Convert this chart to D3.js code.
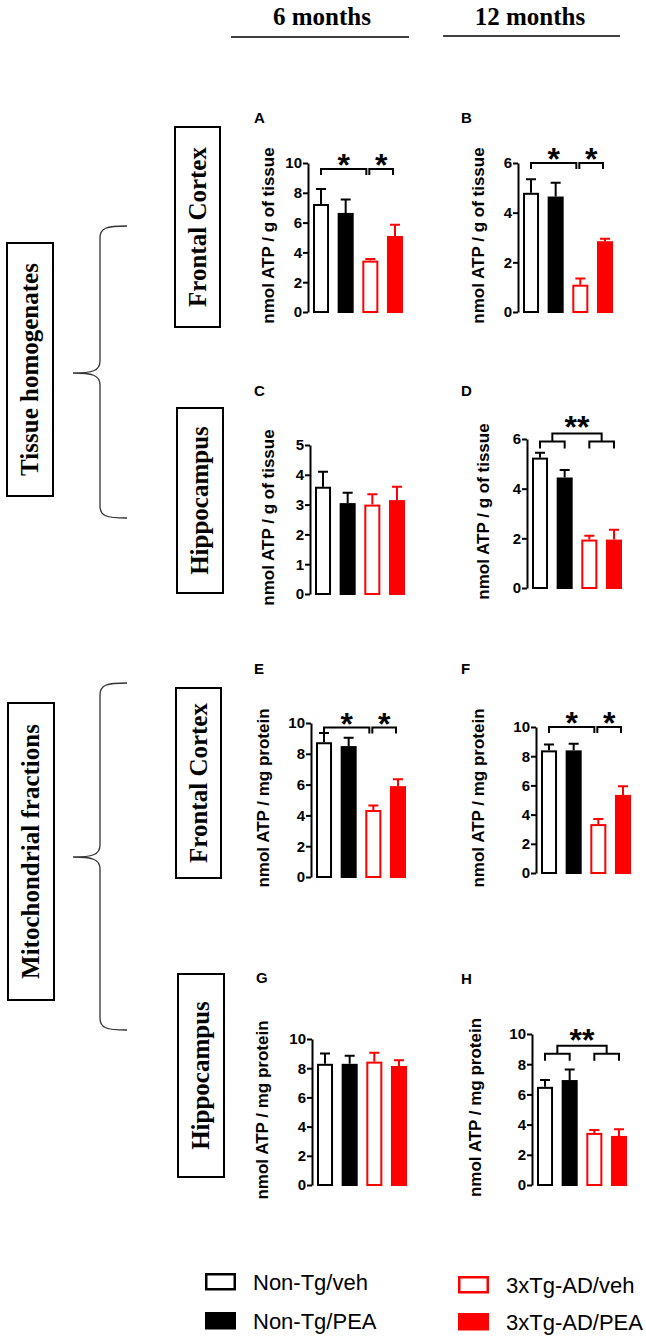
<!DOCTYPE html>
<html>
<head>
<meta charset="utf-8">
<script src="https://cdn.jsdelivr.net/npm/d3@7"></script>
<style>
  body { margin: 0; background: #fff; }
  svg { display: block; }
</style>
</head>
<body>
<svg></svg>
<script>
// groups and values (mean, SEM)
var groups = ["Non-Tg/veh", "Non-Tg/PEA", "3xTg-AD/veh", "3xTg-AD/PEA"];
var panelNames = ["A", "B", "C", "D", "E", "F", "G", "H"];

var meanA = [7.25, 6.65, 3.45, 5.1],  semA = [1.0, 0.9, 0.1, 0.75];
var meanB = [4.8, 4.65, 1.1, 2.85],   semB = [0.55, 0.55, 0.25, 0.1];
var meanC = [3.6, 3.05, 3.0, 3.15],   semC = [0.5, 0.35, 0.35, 0.45];
var meanD = [5.25, 4.45, 1.95, 1.95], semD = [0.2, 0.3, 0.15, 0.4];
var meanE = [8.75, 8.5, 4.35, 5.9],   semE = [0.6, 0.55, 0.3, 0.45];
var meanF = [8.4, 8.4, 3.35, 5.35],   semF = [0.4, 0.45, 0.35, 0.6];
var meanG = [8.3, 8.3, 8.45, 8.15],   semG = [0.7, 0.55, 0.6, 0.4];
var meanH = [6.5, 6.95, 3.45, 3.25],  semH = [0.45, 0.7, 0.2, 0.45];

var ticksTen = [0, 2, 4, 6, 8, 10];
var ticksSix = [0, 2, 4, 6];
var ticksFive = [0, 1, 2, 3, 4, 5];

var labelTissue = "nmol ATP / g of tissue";
var labelProtein = "nmol ATP / mg protein";

// significance: [from group, to group, mark], level in y units
var sigA = [[0, 2, "*"], [2, 3, "*"]];
var sigB = [[0, 2, "*"], [2, 3, "*"]];
var sigE = [[0, 2, "*"], [2, 3, "*"]];
var sigF = [[0, 2, "*"], [2, 3, "*"]];
var nestD = [[0, 1], [2, 3]];
var nestH = [[0, 1], [2, 3]];

var colTitles = ["6 months", "12 months"];

var panels = [
  {name: "A", mean: meanA, sem: semA, ticks: ticksTen,  yLabel: labelTissue,  sig: sigA, level: 9.6},
  {name: "B", mean: meanB, sem: semB, ticks: ticksSix,  yLabel: labelTissue,  sig: sigB, level: 6.0},
  {name: "C", mean: meanC, sem: semC, ticks: ticksFive, yLabel: labelTissue},
  {name: "D", mean: meanD, sem: semD, ticks: ticksSix,  yLabel: labelTissue,  nest: nestD, level: 5.9, mark: "**"},
  {name: "E", mean: meanE, sem: semE, ticks: ticksTen,  yLabel: labelProtein, sig: sigE, level: 9.7},
  {name: "F", mean: meanF, sem: semF, ticks: ticksTen,  yLabel: labelProtein, sig: sigF, level: 10.0},
  {name: "G", mean: meanG, sem: semG, ticks: ticksTen,  yLabel: labelProtein},
  {name: "H", mean: meanH, sem: semH, ticks: ticksTen,  yLabel: labelProtein, nest: nestH, level: 8.7, mark: "**"}
];

// where each little plot sits on the page
var layout = [
  {ax: 308, top: 163,  bot: 312,  lab: 268, lx: 254, ly: 123},
  {ax: 518, top: 163,  bot: 312,  lab: 478, lx: 461, ly: 123},
  {ax: 310, top: 445,  bot: 594,  lab: 268, lx: 254, ly: 396},
  {ax: 527, top: 439,  bot: 588,  lab: 483, lx: 461, ly: 396},
  {ax: 311, top: 723,  bot: 877,  lab: 263, lx: 254, ly: 674},
  {ax: 536, top: 727,  bot: 873,  lab: 478, lx: 461, ly: 674},
  {ax: 312, top: 1039, bot: 1185, lab: 262, lx: 256, ly: 983},
  {ax: 532, top: 1034, bot: 1185, lab: 475, lx: 461, ly: 984}
];

var fills = ["#fff", "#000", "#fff", "#ff0000"];
var strokes = ["#000", "#000", "#ff0000", "#ff0000"];

var sans = "'Liberation Sans', Arial, sans-serif";
var serif = "'Liberation Serif', 'Times New Roman', serif";

var svg = d3.select("svg")
    .attr("width", 646)
    .attr("height", 1339)
    .style("background-color", "white");

// column headers
[322, 530].forEach(function(cx, i) {
  svg.append("text")
      .attr("x", cx).attr("y", 25)
      .attr("text-anchor", "middle")
      .style("font-family", serif).style("font-weight", "bold").style("font-size", "25px")
      .text(colTitles[i]);
});
svg.append("line").attr("x1", 231).attr("x2", 409).attr("y1", 37).attr("y2", 37)
    .attr("stroke", "#000").attr("stroke-width", 1.6);
svg.append("line").attr("x1", 443).attr("x2", 620).attr("y1", 36).attr("y2", 36)
    .attr("stroke", "#000").attr("stroke-width", 1.6);

// boxed labels on the left
var boxes = [
  {x: 7,   y: 243, w: 46, h: 253, t: "Tissue homogenates"},
  {x: 8,   y: 703, w: 46, h: 297, t: "Mitochondrial fractions"},
  {x: 175, y: 127, w: 45, h: 200, t: "Frontal Cortex"},
  {x: 177, y: 408, w: 46, h: 185, t: "Hippocampus"},
  {x: 176, y: 688, w: 45, h: 190, t: "Frontal Cortex"},
  {x: 178, y: 974, w: 46, h: 203, t: "Hippocampus"}
];
boxes.forEach(function(b) {
  svg.append("rect")
      .attr("x", b.x).attr("y", b.y).attr("width", b.w).attr("height", b.h)
      .attr("fill", "none").attr("stroke", "#000").attr("stroke-width", 2);
  svg.append("text")
      .attr("transform", "translate(" + (b.x + b.w / 2 + 8) + "," + (b.y + b.h / 2) + ") rotate(-90)")
      .attr("text-anchor", "middle")
      .style("font-family", serif).style("font-weight", "bold").style("font-size", "25px")
      .text(b.t);
});

// curly braces
function brace(top, mid, bot) {
  var xv = 100, xt = 73, xa = 127;
  return "M" + xa + "," + top +
    " C" + (xv + 6) + "," + top + " " + xv + "," + (top + 2) + " " + xv + "," + (top + 12) +
    " L" + xv + "," + (mid - 12) +
    " C" + xv + "," + (mid - 2) + " " + (xv - 8) + "," + mid + " " + xt + "," + mid +
    " C" + (xv - 8) + "," + mid + " " + xv + "," + (mid + 2) + " " + xv + "," + (mid + 12) +
    " L" + xv + "," + (bot - 12) +
    " C" + xv + "," + (bot - 2) + " " + (xv + 6) + "," + bot + " " + xa + "," + bot;
}
svg.append("path").attr("d", brace(226, 373, 518))
    .attr("fill", "none").attr("stroke", "#333").attr("stroke-width", 1.3);
svg.append("path").attr("d", brace(683, 857, 1030))
    .attr("fill", "none").attr("stroke", "#333").attr("stroke-width", 1.3);

// the eight bar charts
panels.forEach(function(p, i) {
  var L = layout[i];
  var yMax = d3.max(p.ticks);
  var g = svg.append("g");

  var y = d3.scaleLinear().domain([0, yMax]).range([L.bot, L.top]);
  var x = d3.scaleBand().domain(groups).range([L.ax + 5, L.ax + 95]).paddingInner(0.35);
  var bw = x.bandwidth();

  var axis = g.append("g")
      .attr("transform", "translate(" + L.ax + ",0)")
      .call(d3.axisLeft(y).tickValues(p.ticks).tickFormat(d3.format("d"))
        .tickSize(5).tickSizeOuter(0).tickPadding(1));
  axis.selectAll("path, line").attr("stroke", "#000").attr("stroke-width", 2);
  axis.selectAll("text")
      .attr("fill", "#000")
      .style("font-family", sans).style("font-weight", "bold").style("font-size", "15px");

  // y label
  g.append("text")
      .attr("transform", "translate(" + L.lab + "," + ((L.top + L.bot) / 2 - 2) + ") rotate(-90)")
      .attr("text-anchor", "middle")
      .attr("dy", "0.35em")
      .style("font-family", sans).style("font-weight", "bold").style("font-size", "17px")
      .text(p.yLabel);

  // panel letter
  g.append("text")
      .attr("x", L.lx).attr("y", L.ly)
      .style("font-family", sans).style("font-weight", "bold").style("font-size", "15px")
      .text(p.name);

  // error bars (upper only)
  g.selectAll(".err")
      .data(groups).enter()
      .append("path")
      .attr("d", function(d, k) {
        var cx = x(d) + bw / 2;
        var yt = y(p.mean[k] + p.sem[k]);
        return "M" + cx + "," + y(p.mean[k]) + "V" + yt + "M" + (cx - 5) + "," + yt + "H" + (cx + 5);
      })
      .attr("stroke", function(d, k) { return strokes[k]; })
      .attr("stroke-width", 2)
      .attr("fill", "none");

  // bars
  g.selectAll(".bar")
      .data(groups).enter()
      .append("rect")
      .attr("x", function(d) { return x(d) + 1; })
      .attr("y", function(d, k) { return y(p.mean[k]) + 1; })
      .attr("width", bw - 2)
      .attr("height", function(d, k) { return y(0) - y(p.mean[k]) - 1; })
      .attr("fill", function(d, k) { return fills[k]; })
      .attr("stroke", function(d, k) { return strokes[k]; })
      .attr("stroke-width", 2);

  function cx(k) { return x(groups[k]) + bw / 2; }

  // simple brackets
  if (p.sig) {
    var ly = y(p.level);
    p.sig.forEach(function(s, j) {
      var x1 = cx(s[0]) + (j === 0 ? 0 : -1);
      var x2 = cx(s[1]) - (j === 0 ? 4 : 2);
      g.append("path")
          .attr("d", "M" + x1 + "," + (ly + 6) + "V" + ly + "H" + x2 + "V" + (ly + 6))
          .attr("fill", "none").attr("stroke", "#000").attr("stroke-width", 2);
      g.append("text")
          .attr("x", (x1 + x2) / 2).attr("y", ly + 7)
          .attr("text-anchor", "middle")
          .style("font-family", sans).style("font-weight", "bold").style("font-size", "32px")
          .text(s[2]);
    });
  }

  // nested brackets (group vs group)
  if (p.nest) {
    var lo = y(p.level);
    var up = lo - 8;
    var mids = p.nest.map(function(pair) {
      var a = cx(pair[0]), b = cx(pair[1]);
      g.append("path")
          .attr("d", "M" + a + "," + (lo + 7) + "V" + lo + "H" + b + "V" + (lo + 7))
          .attr("fill", "none").attr("stroke", "#000").attr("stroke-width", 2);
      return (a + b) / 2;
    });
    g.append("path")
        .attr("d", "M" + mids[0] + "," + lo + "V" + up + "H" + mids[1] + "V" + lo)
        .attr("fill", "none").attr("stroke", "#000").attr("stroke-width", 2);
    g.append("text")
        .attr("x", (mids[0] + mids[1]) / 2).attr("y", up + 5)
        .attr("text-anchor", "middle")
        .style("font-family", sans).style("font-weight", "bold").style("font-size", "32px")
        .text(p.mark);
  }
});

// legend
var legendPos = [
  {x: 205, y: 1273}, {x: 205, y: 1312},
  {x: 458, y: 1276}, {x: 458, y: 1313}
];
var leg = svg.append("g");
leg.selectAll("rect")
    .data(groups).enter()
    .append("rect")
    .attr("x", function(d, k) { return legendPos[k].x + 1.25; })
    .attr("y", function(d, k) { return legendPos[k].y + 1.25; })
    .attr("width", 28.5).attr("height", 15)
    .attr("fill", function(d, k) { return fills[k]; })
    .attr("stroke", function(d, k) { return strokes[k]; })
    .attr("stroke-width", 2.5);
leg.selectAll("text")
    .data(groups).enter()
    .append("text")
    .attr("x", function(d, k) { return legendPos[k].x + 48; })
    .attr("y", function(d, k) { return legendPos[k].y + 17; })
    .style("font-family", sans).style("font-size", "22px")
    .attr("fill", "#000")
    .text(function(d) { return d; });
</script>
</body>
</html>
